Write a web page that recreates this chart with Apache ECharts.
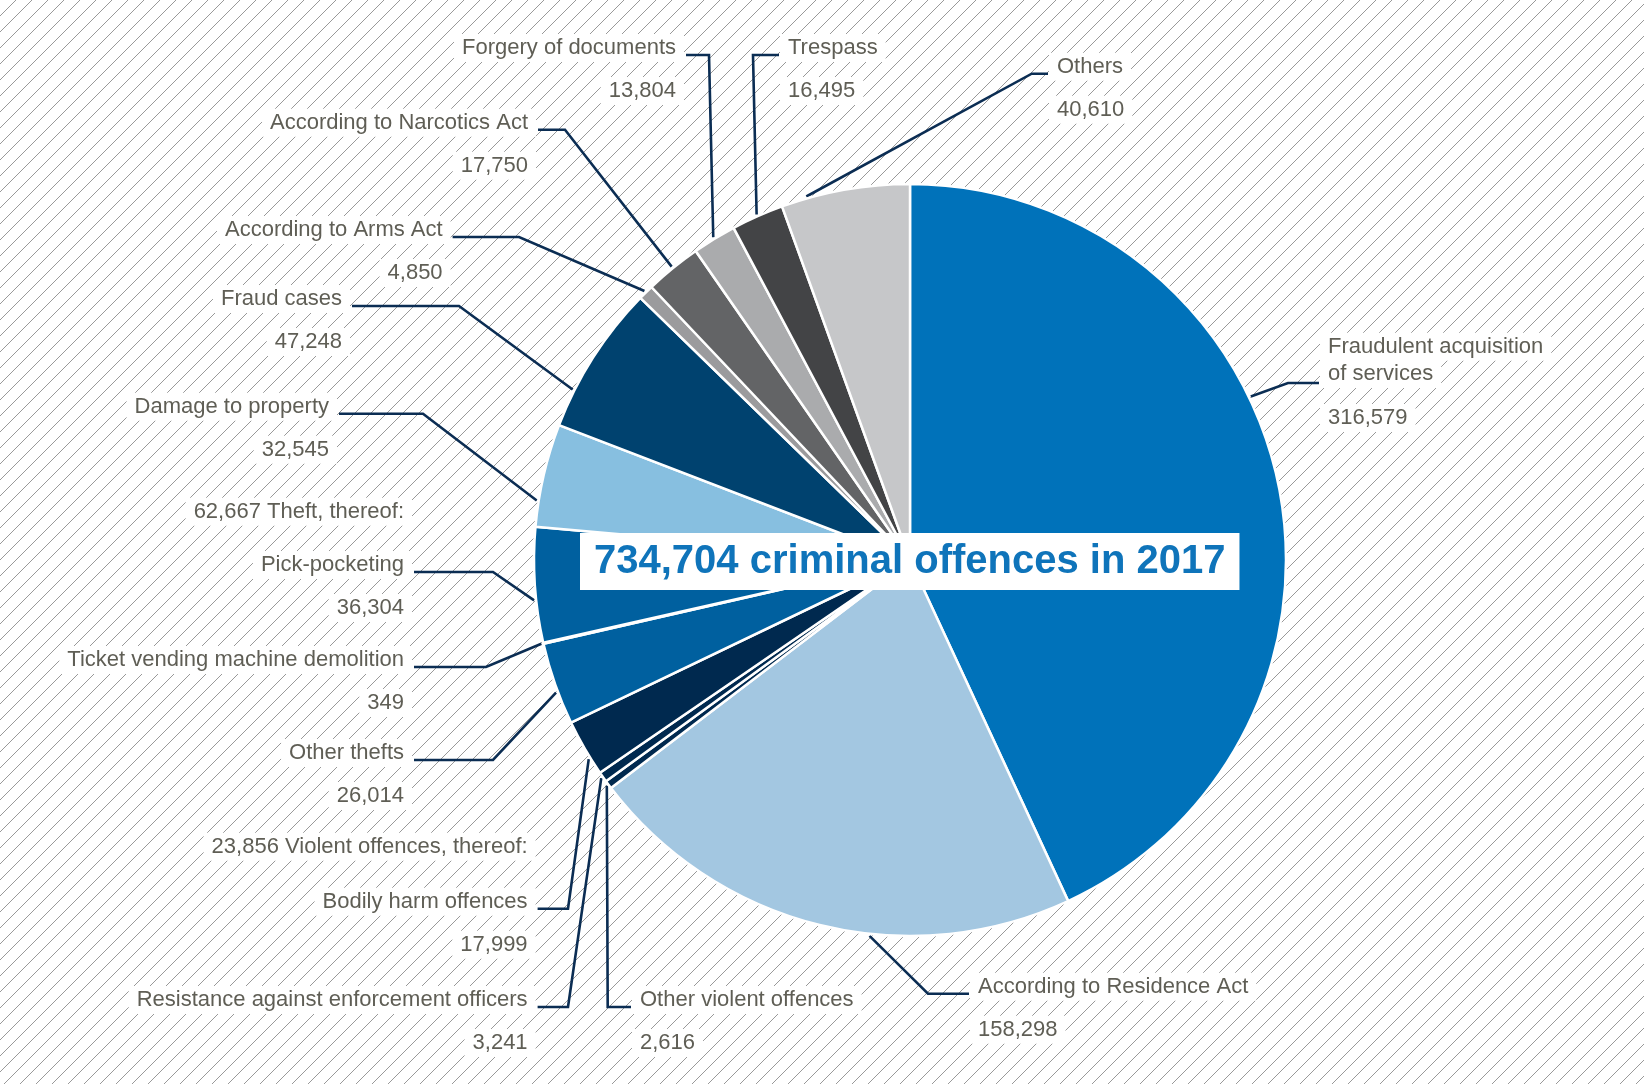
<!DOCTYPE html>
<html>
<head>
<meta charset="utf-8">
<script src="https://cdn.jsdelivr.net/npm/echarts@6/dist/echarts.min.js"></script>
<style>
html,body{margin:0;padding:0;background:#fff;}
#chart{width:1644px;height:1084px;}
</style>
</head>
<body>
<div id="chart"></div>
<script>
// ---------- DATA (clockwise from 12 o'clock) ----------
const categories = [
  'Fraudulent acquisition of services',
  'According to Residence Act',
  'Other violent offences',
  'Resistance against enforcement officers',
  'Bodily harm offences',
  'Other thefts',
  'Ticket vending machine demolition',
  'Pick-pocketing',
  'Damage to property',
  'Fraud cases',
  'According to Arms Act',
  'According to Narcotics Act',
  'Forgery of documents',
  'Trespass',
  'Others'
];
const values = [316579, 158298, 2616, 3241, 17999, 26014, 349, 36304, 32545, 47248, 4850, 17750, 13804, 16495, 40610];
const theftParts = ['Pick-pocketing', 'Ticket vending machine demolition', 'Other thefts'];
const violentParts = ['Bodily harm offences', 'Resistance against enforcement officers', 'Other violent offences'];
const totalText = '734,704';
const yearText = '2017';

// ---------- STYLES ----------
const colors = ['#0072ba', '#a3c7e1', '#00294f', '#00294f', '#00294f', '#00609f', '#00609f', '#00609f',
                '#87bfe0', '#00426f', '#9b9b9d', '#636466', '#aaabad', '#434446', '#c6c7c9'];
const FONT = '"Liberation Sans", Arial, Helvetica, sans-serif';
const TEXT_COLOR = '#5f5e55';
const LINE_COLOR = '#0b2d53';
const CX = 910, CY = 560, R = 376;

// label layout: side L = label to the left of pie (right-aligned), R = to the right
// tx = text edge, cy = first line centre, ex = elbow x, f = anchor position within slice
const layoutSpec = [
  {side:'R', tx:1328, cy:346.7, ex:1288, f:0.415, wrap:22},
  {side:'R', tx:978, cy:986.7, ex:928, f:0.40},
  {side:'R', tx:640, cy:1000, ex:607.7, f:0.5},
  {side:'L', tx:527.6, cy:1000, ex:568, f:0.5},
  {side:'L', tx:527.6, cy:901.7, ex:568, f:0.3},
  {side:'L', tx:404, cy:753, ex:493, f:0.4},
  {side:'L', tx:404, cy:660, ex:486, f:0.5},
  {side:'L', tx:404, cy:565, ex:493, f:0.37},
  {side:'L', tx:329, cy:406.7, ex:423, f:0.25},
  {side:'L', tx:342, cy:299, ex:459, f:0.25},
  {side:'L', tx:442.6, cy:230, ex:519, f:0.5},
  {side:'L', tx:528, cy:122.7, ex:565, f:0.5},
  {side:'L', tx:676, cy:48, ex:709, f:0.5},
  {side:'R', tx:788, cy:48, ex:753, f:0.5},
  {side:'R', tx:1057, cy:66.7, ex:1031.7, f:0.2}
];

const fmt = v => v.toLocaleString('en-US');
const total = values.reduce((a, b) => a + b, 0);
const cum = [];
values.reduce((acc, v, i) => { cum[i] = acc; return acc + v; }, 0);
const sumOf = names => names.reduce((s, n) => s + values[categories.indexOf(n)], 0);

function anchor(i, f) {
  const ang = 2 * Math.PI * (cum[i] + f * values[i]) / total;
  const r = R + 2;
  return [CX + r * Math.sin(ang), CY - r * Math.cos(ang)];
}

function wrapText(s, max) {
  const words = s.split(' ');
  const lines = [];
  let cur = '';
  words.forEach(w => {
    const t = cur ? cur + ' ' + w : w;
    if (t.length > max && cur) { lines.push(cur); cur = w; } else cur = t;
  });
  if (cur) lines.push(cur);
  return lines;
}

// hatch pattern tile
const tile = document.createElement('canvas');
tile.width = 16; tile.height = 16;
const g = tile.getContext('2d');
g.strokeStyle = '#999999';
g.lineWidth = 1;
[[-2, 18, 18, -2], [-2, 2, 2, -2], [14, 18, 18, 14]].forEach(s => {
  g.beginPath(); g.moveTo(s[0], s[1]); g.lineTo(s[2], s[3]); g.stroke();
});

const chart = echarts.init(document.getElementById('chart'), null, {renderer: 'canvas'});

const boxStyle = {fontSize: 22, fontFamily: FONT, color: TEXT_COLOR, backgroundColor: '#fff', padding: [3, 8]};

const option = {
  animation: false,
  title: {
    text: totalText + ' criminal offences in ' + yearText,
    left: 580, top: 533,
    padding: [8, 14],
    backgroundColor: '#fff',
    textStyle: {fontSize: 40, fontWeight: 'bold', color: '#0f74ba', fontFamily: FONT, lineHeight: 41}
  },
  graphic: [
    {
      type: 'rect', silent: true, z: -10,
      shape: {x: 0, y: 0, width: 1644, height: 1084},
      style: {fill: {image: tile, repeat: 'repeat'}}
    },
    {
      type: 'text', silent: true, z: 10, x: 404 + 8, y: 511.7,
      style: {text: fmt(sumOf(theftParts)) + ' Theft, thereof:', align: 'right', verticalAlign: 'middle',
              font: '22px ' + FONT, fill: TEXT_COLOR, backgroundColor: '#fff', padding: [3, 8]}
    },
    {
      type: 'text', silent: true, z: 10, x: 527.6 + 8, y: 846.7,
      style: {text: fmt(sumOf(violentParts)) + ' Violent offences, thereof:', align: 'right', verticalAlign: 'middle',
              font: '22px ' + FONT, fill: TEXT_COLOR, backgroundColor: '#fff', padding: [3, 8]}
    }
  ],
  series: [{
    type: 'pie',
    center: [CX, CY],
    radius: R,
    startAngle: 90,
    clockwise: true,
    avoidLabelOverlap: false,
    silent: true,
    data: categories.map((c, i) => ({name: c, value: values[i], itemStyle: {color: colors[i]}})),
    itemStyle: {borderColor: '#fff', borderWidth: 2.5},
    label: {
      show: true,
      position: 'outside',
      fontFamily: FONT,
      fontSize: 22,
      color: TEXT_COLOR,
      formatter: p => {
        const s = layoutSpec[p.dataIndex];
        if (s.wrap) {
          const ls = wrapText(p.name, s.wrap);
          return ls.map(l => '{n1|' + l + '}').join('\n') + '\n{v1|' + fmt(p.value) + '}';
        }
        return '{n|' + p.name + '}\n{v|' + fmt(p.value) + '}';
      },
      rich: {
        n: Object.assign({lineHeight: 43}, boxStyle),
        v: Object.assign({lineHeight: 43}, boxStyle),
        n1: Object.assign({lineHeight: 27.3}, boxStyle),
        v1: Object.assign({lineHeight: 60.7}, boxStyle)
      }
    },
    labelLine: {show: true, smooth: false, length: 10, length2: 10, lineStyle: {color: LINE_COLOR, width: 2.6}},
    labelLayout: p => {
      const i = p.dataIndex;
      const s = layoutSpec[i];
      let top, ly;
      if (s.wrap) {
        top = s.cy - 27.3 / 2;
        ly = s.cy + 27.3 + 9;
      } else {
        top = s.cy - 43 / 2;
        ly = s.cy + 7;
      }
      const a = anchor(i, s.f);
      const left = s.side === 'L';
      return {
        x: left ? s.tx + 8 : s.tx - 8,
        y: top,
        align: left ? 'right' : 'left',
        verticalAlign: 'top',
        labelLinePoints: [a, [s.ex, ly], [left ? s.tx + 10 : s.tx - 9, ly]]
      };
    }
  }]
};
chart.setOption(option);
</script>
</body>
</html>
